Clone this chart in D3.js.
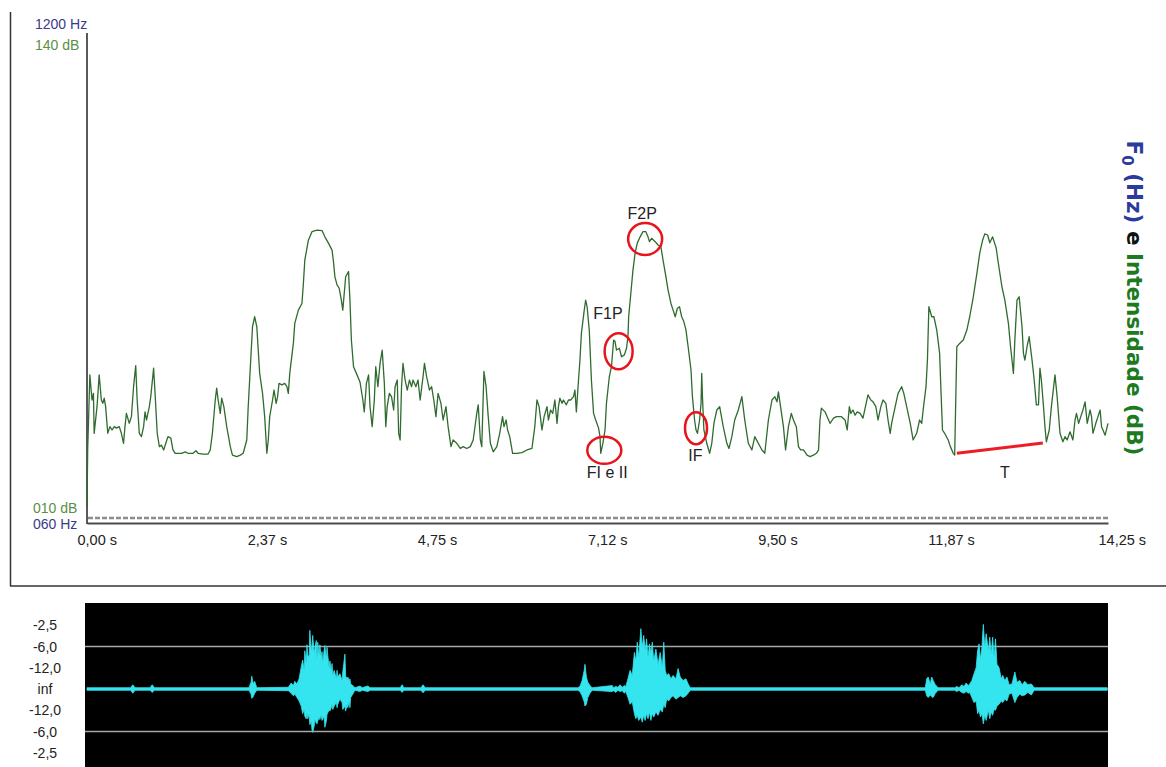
<!DOCTYPE html>
<html>
<head>
<meta charset="utf-8">
<script src="https://cdn.jsdelivr.net/npm/d3@7"></script>
<style>
body { margin: 0; background: #fff; }
svg { display: block; font-family: "Liberation Sans", Arial, sans-serif; }
</style>
</head>
<body>
<div id="chart"></div>
<script>
// intensity contour: [time (s), intensity (dB)]
var intensity = [
[0.00,14.0],[0.01,29.6],[0.04,49.5],[0.07,42.7],[0.09,44.5],[0.10,33.7],[0.14,40.9],[0.17,49.5],[0.20,42.7],[0.22,41.8],
[0.24,43.2],[0.26,40.9],[0.29,33.7],[0.32,35.5],[0.35,34.6],[0.38,35.5],[0.41,35.1],[0.45,35.5],[0.48,33.7],[0.51,31.0],
[0.53,35.5],[0.55,39.1],[0.59,36.4],[0.62,38.2],[0.65,46.3],[0.68,52.0],[0.70,42.7],[0.73,33.7],[0.76,32.8],[0.79,35.5],
[0.81,39.5],[0.83,37.3],[0.87,40.9],[0.89,43.6],[0.93,51.3],[0.95,44.5],[0.98,33.7],[1.01,30.1],[1.04,30.5],[1.07,29.2],
[1.10,31.0],[1.13,32.8],[1.17,32.4],[1.20,29.2],[1.23,28.3],[1.27,28.3],[1.32,28.3],[1.37,28.7],[1.41,28.3],[1.48,28.3],
[1.52,29.0],[1.55,28.3],[1.62,28.1],[1.69,28.1],[1.72,29.2],[1.75,33.7],[1.79,42.7],[1.81,45.9],[1.83,42.7],[1.86,39.1],
[1.88,43.2],[1.91,40.9],[1.95,35.5],[2.00,30.1],[2.03,27.8],[2.09,27.4],[2.14,27.8],[2.18,28.3],[2.23,31.9],[2.25,40.9],
[2.28,51.7],[2.31,62.5],[2.34,65.2],[2.37,62.5],[2.39,56.2],[2.41,49.9],[2.45,44.5],[2.48,38.2],[2.51,28.3],[2.53,31.9],
[2.55,38.2],[2.59,42.7],[2.61,45.4],[2.64,41.8],[2.66,43.6],[2.68,47.2],[2.72,46.8],[2.76,47.2],[2.79,46.3],[2.81,44.5],
[2.83,49.9],[2.88,58.0],[2.90,63.4],[2.95,67.0],[3.00,68.8],[3.02,74.2],[3.04,80.5],[3.09,85.9],[3.14,88.2],[3.21,88.6],
[3.28,88.5],[3.32,86.8],[3.37,85.1],[3.42,83.2],[3.44,80.1],[3.46,76.0],[3.49,73.8],[3.52,72.9],[3.55,69.7],[3.57,67.0],
[3.59,71.5],[3.61,76.0],[3.65,77.4],[3.67,69.7],[3.69,58.9],[3.72,51.7],[3.76,49.9],[3.81,47.6],[3.85,42.7],[3.87,39.5],
[3.90,47.2],[3.93,49.5],[3.95,40.9],[3.98,35.5],[4.01,42.7],[4.03,51.7],[4.06,46.3],[4.09,52.6],[4.12,56.2],[4.15,47.2],
[4.17,35.5],[4.19,40.9],[4.22,44.5],[4.25,43.6],[4.28,40.0],[4.30,46.3],[4.33,48.1],[4.35,33.7],[4.37,31.9],[4.39,46.3],
[4.41,52.6],[4.44,48.1],[4.47,45.4],[4.50,48.1],[4.53,46.3],[4.55,48.1],[4.59,46.3],[4.62,48.1],[4.65,42.7],[4.69,49.0],
[4.71,52.6],[4.74,49.0],[4.78,45.4],[4.81,46.3],[4.84,42.7],[4.87,38.2],[4.90,44.5],[4.94,41.8],[4.97,37.3],[5.01,40.9],
[5.04,35.5],[5.08,30.1],[5.11,31.9],[5.16,31.0],[5.21,29.6],[5.25,30.1],[5.30,29.6],[5.35,30.1],[5.39,31.9],[5.44,39.1],
[5.46,41.4],[5.49,31.9],[5.51,30.1],[5.54,50.4],[5.57,46.3],[5.60,38.2],[5.63,31.0],[5.67,28.7],[5.72,30.1],[5.76,33.7],
[5.80,38.2],[5.82,35.5],[5.85,37.3],[5.87,34.6],[5.90,32.8],[5.94,28.3],[6.00,28.3],[6.07,28.5],[6.14,29.2],[6.21,29.6],
[6.25,35.5],[6.28,42.7],[6.31,40.9],[6.35,34.6],[6.38,38.2],[6.42,40.9],[6.44,37.3],[6.47,40.0],[6.50,39.1],[6.53,42.7],
[6.56,36.4],[6.58,40.9],[6.60,43.2],[6.63,41.8],[6.65,42.7],[6.69,41.4],[6.72,42.7],[6.75,42.7],[6.79,43.6],[6.81,45.4],
[6.83,39.5],[6.86,48.1],[6.88,53.5],[6.90,60.7],[6.94,67.0],[6.96,69.7],[6.98,67.9],[7.01,61.6],[7.04,48.1],[7.07,39.1],
[7.10,37.3],[7.14,35.1],[7.16,32.8],[7.17,28.3],[7.20,31.0],[7.23,34.6],[7.25,41.8],[7.29,49.0],[7.32,51.7],[7.35,58.9],
[7.37,58.5],[7.39,56.2],[7.43,56.7],[7.46,54.4],[7.50,54.9],[7.53,56.7],[7.55,59.8],[7.56,65.2],[7.59,71.5],[7.62,77.8],
[7.65,82.4],[7.68,85.1],[7.72,86.8],[7.76,88.2],[7.80,88.2],[7.83,86.8],[7.85,85.5],[7.88,86.4],[7.93,85.5],[7.97,84.6],
[8.01,84.1],[8.04,80.5],[8.08,76.0],[8.11,72.4],[8.15,68.8],[8.18,67.0],[8.21,65.2],[8.24,67.5],[8.27,67.9],[8.30,65.2],
[8.33,63.9],[8.36,61.6],[8.39,57.1],[8.43,50.8],[8.45,43.6],[8.48,37.3],[8.50,34.6],[8.52,33.7],[8.55,37.3],[8.57,41.8],
[8.58,49.9],[8.59,43.6],[8.61,34.6],[8.65,31.0],[8.69,28.3],[8.72,31.0],[8.75,36.4],[8.79,40.0],[8.83,40.9],[8.88,35.5],
[8.93,31.0],[8.96,29.6],[9.00,32.8],[9.04,37.3],[9.09,40.0],[9.14,43.6],[9.18,37.3],[9.23,31.0],[9.28,29.2],[9.32,32.8],
[9.42,29.2],[9.46,28.3],[9.51,37.3],[9.56,42.7],[9.60,43.6],[9.63,42.2],[9.65,44.9],[9.68,40.9],[9.72,35.5],[9.75,29.2],
[9.79,35.5],[9.83,39.1],[9.86,37.3],[9.90,35.5],[9.93,30.1],[9.96,29.2],[10.00,29.2],[10.05,27.8],[10.09,27.4],[10.14,27.8],
[10.18,28.3],[10.21,29.2],[10.23,37.3],[10.25,40.5],[10.30,39.5],[10.35,37.3],[10.37,36.4],[10.42,37.8],[10.46,38.2],[10.53,38.2],
[10.58,37.3],[10.61,34.6],[10.64,40.9],[10.66,39.1],[10.69,40.0],[10.72,38.6],[10.75,39.5],[10.79,39.1],[10.83,37.8],[10.87,41.4],
[10.90,44.1],[10.94,42.7],[10.97,42.2],[11.01,40.9],[11.04,37.3],[11.08,40.9],[11.11,42.7],[11.15,41.8],[11.18,37.3],[11.21,33.7],
[11.23,36.4],[11.28,40.9],[11.32,44.5],[11.37,46.3],[11.40,44.5],[11.44,40.9],[11.49,36.4],[11.53,31.9],[11.58,33.7],[11.62,37.3],
[11.65,36.4],[11.67,40.0],[11.71,46.3],[11.73,53.5],[11.75,67.9],[11.79,65.2],[11.82,65.2],[11.86,61.6],[11.90,55.3],[11.92,44.5],
[11.94,34.6],[11.97,33.7],[12.02,31.9],[12.05,30.1],[12.09,28.3],[12.11,27.8],[12.14,57.1],[12.18,58.0],[12.23,58.9],[12.28,61.6],
[12.32,65.2],[12.37,70.6],[12.42,76.9],[12.46,82.4],[12.50,85.9],[12.53,87.6],[12.57,87.3],[12.60,85.2],[12.64,86.8],[12.69,83.7],
[12.72,79.6],[12.77,73.3],[12.81,69.7],[12.86,63.4],[12.89,57.1],[12.93,49.9],[12.95,58.9],[12.98,69.7],[13.01,70.6],[13.05,62.5],
[13.07,55.3],[13.09,53.5],[13.12,57.1],[13.15,59.8],[13.19,53.5],[13.22,48.1],[13.25,41.4],[13.28,41.4],[13.30,51.3],[13.32,48.1],
[13.35,40.9],[13.37,35.5],[13.39,31.4],[13.43,34.6],[13.46,40.9],[13.51,49.5],[13.54,43.6],[13.58,33.7],[13.62,31.4],[13.65,32.8],
[13.68,31.9],[13.72,34.1],[13.76,31.9],[13.79,37.3],[13.81,39.1],[13.84,36.4],[13.87,38.2],[13.90,40.0],[13.93,42.2],[13.96,36.4],
[14.00,40.0],[14.02,38.2],[14.04,33.7],[14.08,36.4],[14.11,38.2],[14.14,40.0],[14.16,35.5],[14.21,33.2],[14.25,36.4]
];

// waveform envelope: [time (s), max amplitude, min amplitude]
var waveform = [
[0.00,0.015,-0.015],[0.61,0.015,-0.015],[0.64,0.05,-0.05],[0.67,0.015,-0.015],[0.88,0.015,-0.015],[0.91,0.05,-0.04],[0.94,0.015,-0.015],
[2.26,0.015,-0.015],[2.29,0.08,-0.06],[2.30,0.15,-0.11],[2.32,0.06,-0.09],[2.34,0.09,-0.05],[2.37,0.015,-0.015],
[2.81,0.02,-0.02],[2.85,0.07,-0.05],[2.88,0.04,-0.08],[2.90,0.09,-0.06],[2.93,0.06,-0.10],[2.96,0.12,-0.14],[2.99,0.26,-0.20],
[3.01,0.34,-0.29],[3.03,0.22,-0.24],[3.04,0.45,-0.32],[3.06,0.30,-0.35],[3.07,0.52,-0.28],[3.08,0.40,-0.35],[3.10,0.38,-0.30],
[3.11,0.69,-0.42],[3.13,0.45,-0.38],[3.14,0.50,-0.48],[3.15,0.63,-0.51],[3.17,0.42,-0.44],[3.18,0.48,-0.36],[3.20,0.57,-0.40],
[3.21,0.35,-0.41],[3.22,0.55,-0.38],[3.24,0.40,-0.33],[3.25,0.52,-0.36],[3.27,0.36,-0.30],[3.28,0.44,-0.37],[3.29,0.30,-0.36],
[3.31,0.46,-0.32],[3.32,0.51,-0.45],[3.34,0.35,-0.38],[3.35,0.49,-0.30],[3.36,0.40,-0.28],[3.38,0.24,-0.25],[3.39,0.33,-0.26],
[3.41,0.20,-0.22],[3.42,0.30,-0.18],[3.43,0.16,-0.24],[3.45,0.22,-0.20],[3.48,0.12,-0.16],[3.49,0.22,-0.22],[3.50,0.14,-0.18],
[3.53,0.18,-0.12],[3.56,0.10,-0.16],[3.57,0.20,-0.24],[3.60,0.41,-0.20],[3.61,0.15,-0.26],[3.63,0.12,-0.18],[3.64,0.14,-0.22],
[3.66,0.10,-0.14],[3.67,0.12,-0.22],[3.68,0.06,-0.10],[3.71,0.04,-0.06],[3.74,0.015,-0.015],
[3.81,0.035,-0.03],[3.84,0.015,-0.015],[3.92,0.035,-0.03],[3.95,0.015,-0.015],[4.37,0.015,-0.015],[4.40,0.05,-0.04],[4.42,0.015,-0.015],
[4.66,0.015,-0.015],[4.69,0.05,-0.045],[4.72,0.015,-0.015],
[6.85,0.015,-0.015],[6.88,0.03,-0.03],[6.91,0.10,-0.08],[6.94,0.22,-0.15],[6.95,0.29,-0.20],[6.97,0.14,-0.18],[6.99,0.08,-0.10],
[7.02,0.04,-0.05],[7.05,0.015,-0.015],
[7.33,0.04,-0.03],[7.35,0.015,-0.02],[7.38,0.03,-0.04],[7.41,0.02,-0.015],[7.44,0.05,-0.03],[7.47,0.02,-0.02],[7.50,0.04,-0.05],
[7.52,0.03,-0.03],[7.55,0.12,-0.10],[7.58,0.22,-0.18],[7.61,0.16,-0.15],[7.64,0.43,-0.29],[7.66,0.33,-0.35],[7.68,0.55,-0.31],
[7.70,0.37,-0.37],[7.73,0.71,-0.33],[7.75,0.49,-0.39],[7.77,0.63,-0.31],[7.79,0.45,-0.37],[7.81,0.59,-0.29],[7.83,0.37,-0.35],
[7.85,0.53,-0.27],[7.87,0.43,-0.37],[7.89,0.55,-0.29],[7.91,0.33,-0.33],[7.94,0.47,-0.27],[7.97,0.29,-0.31],[8.00,0.43,-0.24],
[8.03,0.25,-0.27],[8.05,0.55,-0.18],[8.07,0.22,-0.22],[8.09,0.16,-0.12],[8.12,0.18,-0.14],[8.15,0.12,-0.10],[8.18,0.16,-0.08],
[8.22,0.12,-0.12],[8.25,0.24,-0.10],[8.28,0.14,-0.08],[8.32,0.10,-0.10],[8.36,0.12,-0.08],[8.39,0.06,-0.05],[8.42,0.015,-0.015],
[11.70,0.015,-0.015],[11.72,0.12,-0.08],[11.74,0.14,-0.10],[11.77,0.06,-0.07],[11.79,0.14,-0.09],[11.81,0.10,-0.10],[11.84,0.05,-0.05],
[11.88,0.015,-0.015],
[12.11,0.015,-0.015],[12.14,0.03,-0.03],[12.17,0.015,-0.015],[12.21,0.05,-0.04],[12.24,0.03,-0.05],[12.27,0.07,-0.03],[12.30,0.04,-0.05],
[12.32,0.06,-0.04],[12.35,0.10,-0.10],[12.38,0.18,-0.16],[12.41,0.25,-0.14],[12.43,0.45,-0.29],[12.45,0.53,-0.25],[12.47,0.35,-0.33],
[12.49,0.49,-0.29],[12.51,0.76,-0.41],[12.53,0.49,-0.31],[12.55,0.65,-0.37],[12.58,0.45,-0.25],[12.60,0.61,-0.35],[12.62,0.41,-0.27],
[12.64,0.61,-0.31],[12.66,0.37,-0.24],[12.68,0.59,-0.25],[12.70,0.29,-0.20],[12.73,0.25,-0.18],[12.76,0.12,-0.14],[12.78,0.16,-0.16],
[12.81,0.10,-0.12],[12.84,0.14,-0.14],[12.87,0.05,-0.06],[12.91,0.06,-0.05],[12.95,0.20,-0.16],[12.98,0.08,-0.10],[13.02,0.10,-0.06],
[13.05,0.05,-0.08],[13.09,0.09,-0.07],[13.13,0.05,-0.04],[13.18,0.06,-0.07],[13.22,0.015,-0.015],[14.24,0.015,-0.015]
];

// time axis
var timeTicks = [0, 2.375, 4.75, 7.125, 9.5, 11.875, 14.25];
var timeLabels = ["0,00 s", "2,37 s", "4,75 s", "7,12 s", "9,50 s", "11,87 s", "14,25 s"];

// waveform scale labels (amplitude positions)
var waveTickAmp = [0.75, 0.5, 0.25, 0, -0.25, -0.5, -0.75];
var waveTickLabels = ["-2,5", "-6,0", "-12,0", "inf", "-12,0", "-6,0", "-2,5"];

// annotations
var noteLabels = ["F2P", "F1P", "FI e II", "IF", "T"];
var noteTimes = [7.75, 7.27, 7.26, 8.49, 12.81];
var noteDb = [93.2, 66.2, 23.2, 27.8, 23.2];
var ringTimes = [7.42, 7.79, 7.22, 8.50];
var ringDb = [55.9, 86.2, 29.1, 35.1];
var tLine = [[12.14, 28.3], [13.34, 31.1]];

var W = 1166, H = 767;
var svg = d3.select("#chart").append("svg")
    .attr("width", W).attr("height", H);

var x = d3.scaleLinear().domain([0, 14.25]).range([87, 1108]);
var yDb = d3.scaleLinear().domain([10, 140]).range([521, 40]);

// frame of the top panel
svg.append("line").attr("x1", 10.5).attr("x2", 10.5).attr("y1", 12).attr("y2", 586)
    .attr("stroke", "#333").attr("stroke-width", 1.5);
svg.append("line").attr("x1", 10).attr("x2", W).attr("y1", 586).attr("y2", 586)
    .attr("stroke", "#333").attr("stroke-width", 1.5);

// F0 track (no voicing) - dashed line at floor
svg.append("line")
    .attr("x1", x(0) + 1).attr("x2", x(14.25))
    .attr("y1", yDb(10) - 3).attr("y2", yDb(10) - 3)
    .attr("stroke", "#8c8c8c").attr("stroke-width", 2.5)
    .attr("stroke-dasharray", "5,2");

// x axis
var xAxis = svg.append("g")
    .attr("transform", "translate(0," + (yDb(10) + 2) + ")")
    .call(d3.axisBottom(x).tickValues(timeTicks).tickSize(0).tickSizeOuter(0).tickPadding(12)
        .tickFormat(function(d, i) { return timeLabels[i]; }));
xAxis.select(".domain").attr("stroke", "#4a4a4a").attr("stroke-width", 2);
xAxis.selectAll("text")
    .attr("x", -10)
    .attr("text-anchor", "start")
    .style("font-size", "14.5px")
    .style("font-family", "'Liberation Sans', Arial, sans-serif")
    .attr("fill", "#222");

// y axis line
svg.append("line")
    .attr("x1", x(0)).attr("x2", x(0))
    .attr("y1", yDb(140) - 7).attr("y2", yDb(10) + 3)
    .attr("stroke", "#222").attr("stroke-width", 1.5);

// axis end labels
var endLabels = svg.append("g").style("font-size", "14px");
endLabels.append("text").attr("x", 35).attr("y", yDb(140) - 11).attr("fill", "#3b3b88").text("1200 Hz");
endLabels.append("text").attr("x", 35).attr("y", yDb(140) + 10).attr("fill", "#5a8f45").text("140 dB");
endLabels.append("text").attr("x", 33).attr("y", yDb(10) - 8).attr("fill", "#5a8f45").text("010 dB");
endLabels.append("text").attr("x", 33).attr("y", yDb(10) + 8).attr("fill", "#3b3b88").text("060 Hz");

// intensity line
svg.append("path")
    .datum(intensity)
    .attr("fill", "none")
    .attr("stroke", "#2f6b2f")
    .attr("stroke-width", 1.3)
    .attr("stroke-linejoin", "round")
    .attr("d", d3.line()
        .x(function(d) { return x(d[0]); })
        .y(function(d) { return yDb(d[1]); }));

// red rings
var ringR = [[14, 18], [17, 16], [17, 13.5], [11, 16]];
svg.selectAll(".ring")
    .data(ringTimes)
    .enter().append("ellipse")
    .attr("cx", function(d) { return x(d); })
    .attr("cy", function(d, i) { return yDb(ringDb[i]); })
    .attr("rx", function(d, i) { return ringR[i][0]; })
    .attr("ry", function(d, i) { return ringR[i][1]; })
    .attr("fill", "none")
    .attr("stroke", "#e8141c")
    .attr("stroke-width", 2.5);

// T line
svg.append("path")
    .datum(tLine)
    .attr("fill", "none")
    .attr("stroke", "#ee1c24")
    .attr("stroke-width", 3)
    .attr("d", d3.line()
        .x(function(d) { return x(d[0]); })
        .y(function(d) { return yDb(d[1]); }));

// annotation labels
svg.selectAll(".note")
    .data(noteLabels)
    .enter().append("text")
    .attr("x", function(d, i) { return x(noteTimes[i]); })
    .attr("y", function(d, i) { return yDb(noteDb[i]); })
    .attr("text-anchor", "middle")
    .attr("dominant-baseline", "central")
    .style("font-size", "16px")
    .attr("fill", "#222")
    .text(function(d) { return d; });

// right title
var title = svg.append("text")
    .attr("transform", "translate(1127,298) rotate(90)")
    .attr("text-anchor", "middle")
    .style("font-family", "'DejaVu Sans', Verdana, sans-serif")
    .style("font-weight", "bold")
    .style("font-size", "21.5px");
title.append("tspan").attr("fill", "#2b3a9c").text("F");
title.append("tspan").attr("fill", "#2b3a9c").attr("dy", 5).style("font-size", "15px").text("0");
title.append("tspan").attr("fill", "#2b3a9c").attr("dy", -5).text(" (Hz) ");
title.append("tspan").attr("fill", "#111").text("e ");
title.append("tspan").attr("fill", "#1e7a1e").text("Intensidade (dB)");

// waveform panel
var amp = d3.scaleLinear().domain([-1, 1]).range([774, 604]);
svg.append("rect")
    .attr("x", x(0) - 2).attr("y", 603)
    .attr("width", x(14.25) - x(0) + 2).attr("height", H - 603)
    .attr("fill", "#000");
svg.selectAll(".grid")
    .data([0.5, -0.5])
    .enter().append("line")
    .attr("x1", x(0) - 2).attr("x2", x(14.25))
    .attr("y1", function(d) { return amp(d); }).attr("y2", function(d) { return amp(d); })
    .attr("stroke", "#a8a8a8").attr("stroke-width", 1.5);

svg.append("path")
    .datum(waveform)
    .attr("fill", "#34e4ee")
    .attr("stroke", "#34e4ee")
    .attr("stroke-width", 0.8)
    .attr("d", d3.area()
        .x(function(d) { return x(d[0]); })
        .y0(function(d) { return amp(d[2]); })
        .y1(function(d) { return amp(d[1]); }));

svg.selectAll(".wtick")
    .data(waveTickLabels)
    .enter().append("text")
    .attr("x", 45)
    .attr("y", function(d, i) { return amp(waveTickAmp[i]); })
    .attr("text-anchor", "middle")
    .attr("dominant-baseline", "central")
    .style("font-size", "14px")
    .attr("fill", "#222")
    .text(function(d) { return d; });
</script>
</body>
</html>
